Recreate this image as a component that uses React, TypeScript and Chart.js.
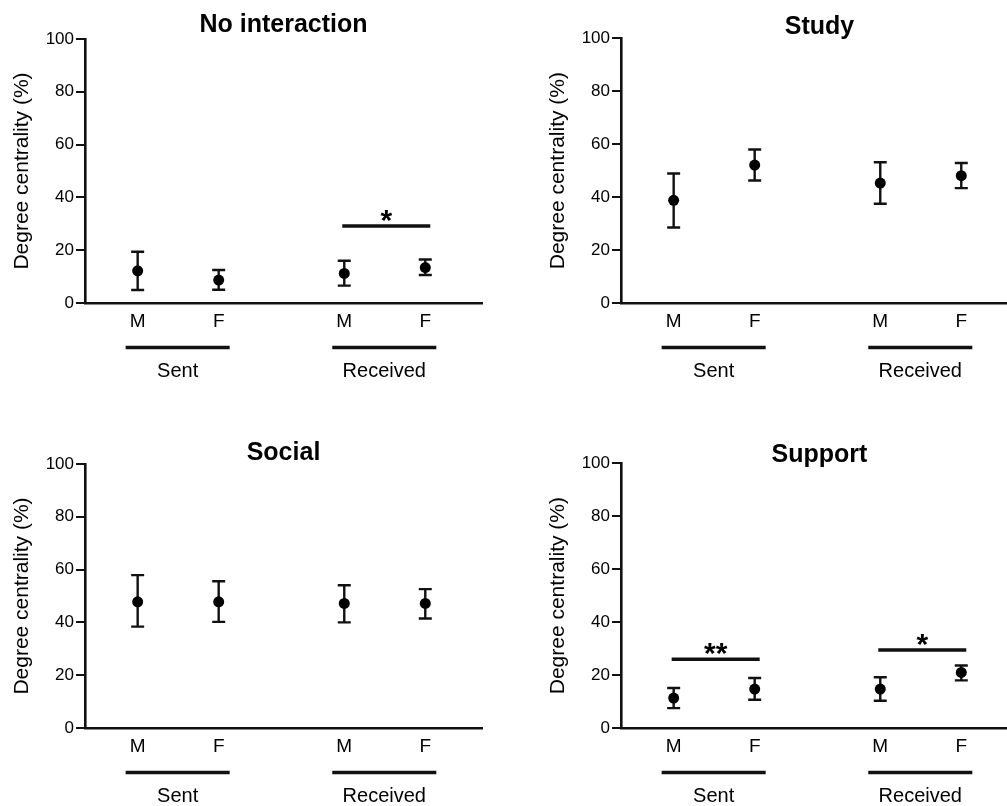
import React, { useEffect, useRef } from 'react';
import { Chart, registerables } from 'chart.js';

Chart.register(...registerables);

const FONT = '"Liberation Sans", Arial, Helvetica, sans-serif';

// ---------- data ----------
const sexLabels = ['M', 'F', 'M', 'F'];
const groupLabels = ['Sent', 'Received'];
const slotPositions = [1, 2, 3.55, 4.55];
const yTickValues = [0, 20, 40, 60, 80, 100];
const yTitle = 'Degree centrality (%)';
const panelTitles = ['No interaction', 'Study', 'Social', 'Support'];

const noInteractionMean = [12.2, 8.7, 11.2, 13.4];
const noInteractionLow = [4.9, 5.0, 6.6, 10.6];
const noInteractionHigh = [19.4, 12.5, 16.0, 16.5];
const noInteractionSig = [{ from: 2, to: 3, level: 29.2, label: '*' }];

const studyMean = [38.8, 52.1, 45.3, 48.1];
const studyLow = [28.5, 46.3, 37.5, 43.4];
const studyHigh = [48.9, 58.0, 53.2, 52.9];
const studySig: { from: number; to: number; level: number; label: string }[] = [];

const socialMean = [47.8, 47.8, 47.2, 47.2];
const socialLow = [38.4, 40.2, 40.0, 41.5];
const socialHigh = [57.9, 55.6, 54.1, 52.6];
const socialSig: { from: number; to: number; level: number; label: string }[] = [];

const supportMean = [11.3, 14.7, 14.7, 21.0];
const supportLow = [7.5, 10.7, 10.3, 18.0];
const supportHigh = [15.1, 18.9, 19.2, 23.6];
const supportSig = [
  { from: 0, to: 1, level: 26.0, label: '**' },
  { from: 2, to: 3, level: 29.5, label: '*' },
];

// ---------- layout (positions / sizes) ----------
const panelLayout = [
  { left: 0, top: 0, width: 490, height: 400, padTop: 13, padBottom: 1, xHeight: 97 },
  { left: 536, top: 0, width: 490, height: 400, padTop: 15, padBottom: -1.7, xHeight: 97 },
  { left: 0, top: 424, width: 490, height: 382, padTop: 17, padBottom: -2, xHeight: 78 },
  { left: 536, top: 424, width: 490, height: 382, padTop: 19, padBottom: -4.7, xHeight: 78 },
];

const panelData = [
  { title: panelTitles[0], mean: noInteractionMean, low: noInteractionLow, high: noInteractionHigh, sig: noInteractionSig },
  { title: panelTitles[1], mean: studyMean, low: studyLow, high: studyHigh, sig: studySig },
  { title: panelTitles[2], mean: socialMean, low: socialLow, high: socialHigh, sig: socialSig },
  { title: panelTitles[3], mean: supportMean, low: supportLow, high: supportHigh, sig: supportSig },
];

const INK = '#111';

function makeDecor(p: typeof panelData[number]) {
  return {
    id: 'decor',
    beforeDatasetsDraw(chart: any) {
      const { ctx, scales } = chart;
      const x = scales.x;
      const y = scales.y;
      ctx.save();
      ctx.strokeStyle = INK;
      ctx.lineWidth = 2.4;
      ctx.lineCap = 'butt';
      p.low.forEach((lo: number, i: number) => {
        const px = x.getPixelForValue(slotPositions[i]);
        const pLo = y.getPixelForValue(lo);
        const pHi = y.getPixelForValue(p.high[i]);
        ctx.beginPath();
        ctx.moveTo(px, pLo);
        ctx.lineTo(px, pHi);
        ctx.moveTo(px - 6.5, pLo);
        ctx.lineTo(px + 6.5, pLo);
        ctx.moveTo(px - 6.5, pHi);
        ctx.lineTo(px + 6.5, pHi);
        ctx.stroke();
      });
      ctx.restore();
    },
    afterDraw(chart: any) {
      const { ctx, scales, chartArea } = chart;
      const x = scales.x;
      const y = scales.y;
      ctx.save();
      ctx.strokeStyle = INK;
      ctx.fillStyle = '#000';
      // significance bars
      p.sig.forEach((s) => {
        const x1 = x.getPixelForValue(slotPositions[s.from]) - 2;
        const x2 = x.getPixelForValue(slotPositions[s.to]) + 5;
        const py = y.getPixelForValue(s.level);
        ctx.lineWidth = 3.5;
        ctx.beginPath();
        ctx.moveTo(x1, py);
        ctx.lineTo(x2, py);
        ctx.stroke();
        ctx.font = `bold 30px ${FONT}`;
        ctx.textAlign = 'center';
        ctx.textBaseline = 'alphabetic';
        ctx.fillText(s.label, (x1 + x2) / 2, py + 4);
      });
      // group lines and labels
      groupLabels.forEach((g, gi) => {
        const x1 = x.getPixelForValue(slotPositions[gi * 2]) - 12;
        const x2 = x.getPixelForValue(slotPositions[gi * 2 + 1]) + 11;
        const ly = chartArea.bottom + 44.5;
        ctx.lineWidth = 3.5;
        ctx.beginPath();
        ctx.moveTo(x1, ly);
        ctx.lineTo(x2, ly);
        ctx.stroke();
        ctx.font = `20px ${FONT}`;
        ctx.textAlign = 'center';
        ctx.textBaseline = 'middle';
        ctx.fillText(g, (x1 + x2) / 2, chartArea.bottom + 68);
      });
      ctx.restore();
    },
  };
}

function Panel({ index }: { index: number }) {
  const ref = useRef<HTMLCanvasElement | null>(null);
  const lay = panelLayout[index];
  const p = panelData[index];

  useEffect(() => {
    if (!ref.current) return;
    const chart = new Chart(ref.current, {
      type: 'scatter',
      data: {
        datasets: [
          {
            data: p.mean.map((m, i) => ({ x: slotPositions[i], y: m })),
            pointRadius: 5.5,
            pointBackgroundColor: '#000',
            pointBorderColor: '#000',
            pointBorderWidth: 0,
            showLine: false,
          },
        ],
      },
      options: {
        animation: false,
        responsive: false,
        devicePixelRatio: 1,
        layout: { padding: { left: 0, right: 8, top: 0, bottom: 0 } },
        plugins: {
          legend: { display: false },
          tooltip: { enabled: false },
          title: {
            display: true,
            text: p.title,
            fullSize: false,
            color: '#000',
            font: { family: FONT, size: 25, weight: 'bold', lineHeight: 1 },
            padding: { top: lay.padTop, bottom: lay.padBottom },
          },
        },
        scales: {
          x: {
            type: 'linear',
            min: 0.35,
            max: 5.25,
            afterFit: (s: any) => {
              s.height = lay.xHeight;
            },
            afterBuildTicks: (s: any) => {
              s.ticks = slotPositions.map((v) => ({ value: v }));
            },
            ticks: {
              autoSkip: false,
              maxRotation: 0,
              padding: -1,
              color: '#000',
              font: { family: FONT, size: 19 },
              callback: (_v: any, i: number) => sexLabels[i],
            },
            grid: { display: false },
            border: { display: true, color: INK, width: 2.6 },
          },
          y: {
            type: 'linear',
            min: 0,
            max: 100,
            afterFit: (s: any) => {
              s.width = 85;
            },
            afterBuildTicks: (s: any) => {
              s.ticks = yTickValues.map((v) => ({ value: v }));
            },
            ticks: {
              padding: 2,
              color: '#000',
              font: { family: FONT, size: 17 },
            },
            grid: {
              display: true,
              drawOnChartArea: false,
              drawTicks: true,
              tickLength: 9,
              color: INK,
              lineWidth: 2,
            },
            border: { display: true, color: INK, width: 2.6 },
            title: {
              display: true,
              text: yTitle,
              color: '#000',
              font: { family: FONT, size: 21 },
              padding: { top: 10, bottom: 0 },
            },
          },
        },
      },
      plugins: [makeDecor(p)],
    } as any);
    return () => chart.destroy();
  }, [index]);

  return (
    <canvas
      ref={ref}
      width={lay.width}
      height={lay.height}
      style={{
        position: 'absolute',
        left: lay.left,
        top: lay.top,
        width: lay.width,
        height: lay.height,
      }}
    />
  );
}

export default function App() {
  return (
    <div
      style={{
        position: 'fixed',
        left: 0,
        top: 0,
        width: 1007,
        height: 806,
        overflow: 'hidden',
        background: '#fff',
      }}
    >
      {panelData.map((_, i) => (
        <Panel key={i} index={i} />
      ))}
    </div>
  );
}
